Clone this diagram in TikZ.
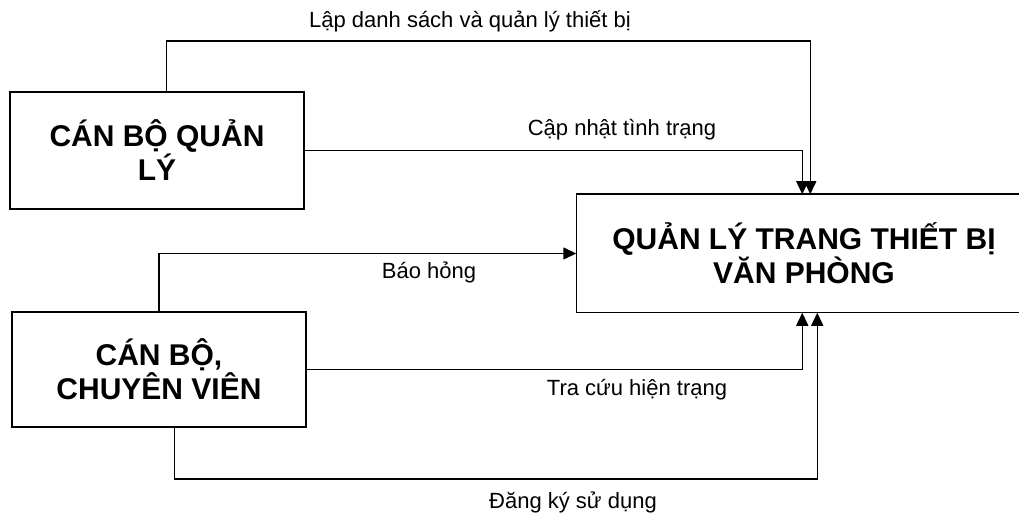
\documentclass[tikz,border=0pt]{standalone}
\usepackage{fontspec}
\setmainfont{Liberation Sans}
\usetikzlibrary{arrows.meta}
\begin{document}
\begin{tikzpicture}[x=1pt,y=-1pt,>={Triangle[length=13pt,width=12pt]}, line width=1.5pt, line join=miter,
	hop/.style={font=\fontsize{22}{26}\selectfont},
	khoi/.style={draw,rectangle,align=center,inner sep=0pt,font=\fontsize{30}{34}\selectfont\bfseries}]
					\useasboundingbox (0,0) rectangle (1019,518);
					\node[khoi,minimum width=294pt,minimum height=117pt] (qly) at (157,150.5) {CÁN BỘ QUẢN\\LÝ};
					\node[khoi,minimum width=294pt,minimum height=115pt] (cbcv) at (159,369.5) {CÁN BỘ,\\CHUYÊN VIÊN};
					% khung bi cat o mep phai
					\node[khoi,draw=none,minimum width=454pt,minimum height=117pt] (qltb) at (804,253.5) {QUẢN LÝ TRANG THIẾT BỊ\\VĂN PHÒNG};
					\draw ([xshift=-12pt]qltb.north east)-|(qltb.south west)--([xshift=-12pt]qltb.south east);
					\path 
					(470,21)node[hop] (lapds) {Lập danh sách và quản lý thiết bị}
					(622,130)node[hop] (capnhat) {Cập nhật tình trạng}
					(429,272)node[hop] (baohong) {Báo hỏng}
					(637,390)node[hop] (tracuu) {Tra cứu hiện trạng}
					(573,502)node[hop] (dangky) {Đăng ký sử dụng}
					;
					\draw[->]([xshift=157pt]qly.north west)--++(0,-50)-|([xshift=234pt]qltb.north west);
					\draw[->](qly.east)-|([xshift=226pt]qltb.north west);
					\draw[->](cbcv.north)|-(qltb.west);
					\draw[->](cbcv.east)-|([xshift=226pt]qltb.south west);
					\draw[->]([xshift=163pt]cbcv.south west)--++(0,51)-|([xshift=241pt]qltb.south west);
				\end{tikzpicture}
\end{document}
